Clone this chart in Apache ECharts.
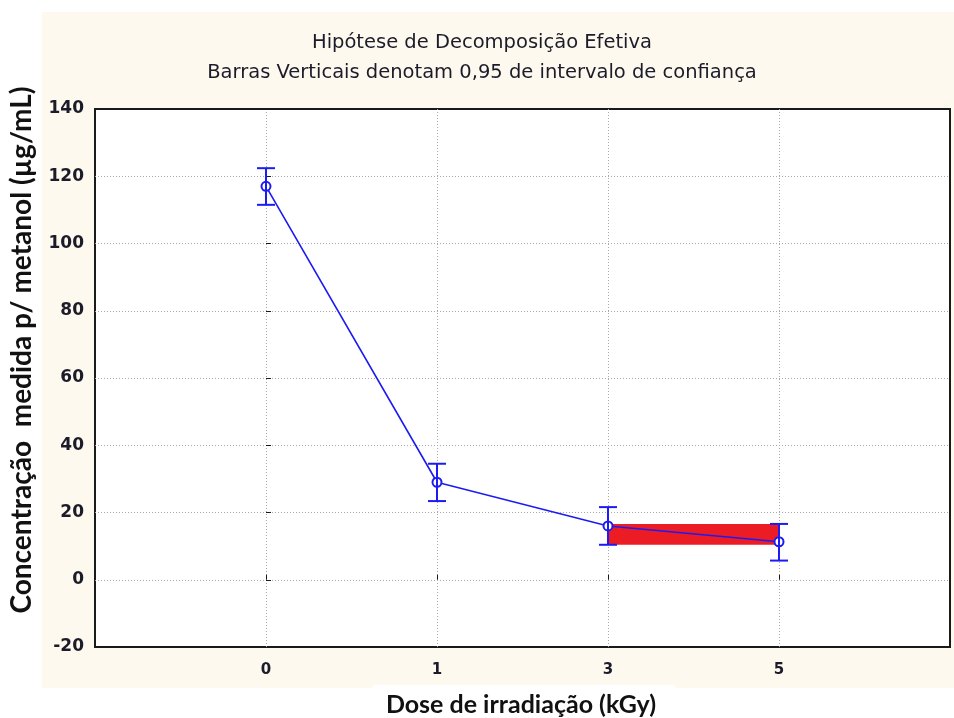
<!DOCTYPE html>
<html>
<head>
<meta charset="utf-8">
<style>
  html, body { margin: 0; padding: 0; background: #ffffff; }
  #chart { width: 954px; height: 718px; }
</style>
<script src="https://cdn.jsdelivr.net/npm/echarts@6/dist/echarts.min.js"></script>
</head>
<body>
<div id="chart"></div>
<script>
// Dose categories (kGy) and measured concentration with 95% confidence limits
const doseLabels = ['0', '1', '3', '5'];
const meanValues = [117.0, 29.0, 16.0, 11.3];
const ciLower = [111.5, 23.4, 10.4, 5.7];
const ciUpper = [122.4, 34.5, 21.6, 16.6];

// Highlighted overlap between the last two doses: from lower limit of dose 3 to upper limit of dose 5
const bandFrom = 2;
const bandTo = 3;

const yTicks = [-20, 0, 20, 40, 60, 80, 100, 120, 140];

const titleLine1 = 'Hipótese de Decomposição Efetiva';
const titleLine2 = 'Barras Verticais denotam 0,95 de intervalo de confiança';
const xTitle = 'Dose de irradiação (kGy)';
const yTitle = 'Concentração  medida p/ metanol (µg/mL)';

const blue = '#1c1cf2';
const cream = '#fef9ee';
const ink = '#1b1b2a';

const chart = echarts.init(document.getElementById('chart'), null, { renderer: 'canvas' });

const lineData = meanValues.map((v, i) => [i, v]);
const errData = meanValues.map((v, i) => [i, ciLower[i], ciUpper[i]]);

const option = {
  backgroundColor: '#ffffff',
  animation: false,
  graphic: [
    { type: 'rect', z: -10, shape: { x: 42, y: 12, width: 912, height: 676 }, style: { fill: cream } },
    { type: 'rect', z: -9, shape: { x: 373, y: 685, width: 302, height: 33 }, style: { fill: '#ffffff' } },
    {
      type: 'text', x: 482, y: 43, z: 5,
      style: { text: titleLine1, font: '19.5px "DejaVu Sans"', fill: ink, align: 'center', verticalAlign: 'middle' }
    },
    {
      type: 'text', x: 482, y: 73, z: 5,
      style: { text: titleLine2, font: '19.5px "DejaVu Sans"', fill: ink, align: 'center', verticalAlign: 'middle' }
    },
    {
      type: 'text', x: 521, y: 705, z: 5,
      style: { text: xTitle, font: 'bold 25px Lato', fill: '#111', align: 'center', verticalAlign: 'middle' }
    },
    {
      type: 'text', x: 22, y: 350, rotation: Math.PI / 2, z: 5,
      style: { text: yTitle, font: 'bold 28px Lato', fill: '#111', align: 'center', verticalAlign: 'middle' }
    }
  ],
  grid: {
    left: 95, top: 109, right: 4, bottom: 71,
    outerBoundsMode: 'none', containLabel: false,
    show: true, backgroundColor: '#ffffff', borderColor: '#1a1a1a', borderWidth: 2
  },
  xAxis: {
    type: 'value', min: -1, max: 4, interval: 1,
    axisLine: { show: false },
    axisTick: { show: true, inside: true, length: 5, lineStyle: { color: '#1a1a1a', width: 1 } },
    axisLabel: {
      margin: 16, color: ink, fontFamily: 'DejaVu Sans', fontWeight: 'bold', fontSize: 15,
      formatter: v => (v >= 0 && v < doseLabels.length) ? doseLabels[v] : ''
    },
    splitLine: { show: true, showMinLine: false, showMaxLine: false, lineStyle: { color: '#a8a8a8', type: [1, 2], width: 1 } }
  },
  yAxis: {
    type: 'value', min: yTicks[0], max: yTicks[yTicks.length - 1], interval: 20,
    axisLine: { show: false },
    axisTick: { show: true, inside: true, length: 5, lineStyle: { color: '#1a1a1a', width: 1 } },
    axisLabel: { margin: 11, color: ink, fontFamily: 'DejaVu Sans', fontWeight: 'bold', fontSize: 17 },
    splitLine: { show: true, showMinLine: false, showMaxLine: false, lineStyle: { color: '#a8a8a8', type: [1, 2], width: 1 } }
  },
  series: [
    {
      type: 'line',
      data: lineData,
      z: 3,
      symbol: 'circle', symbolSize: 9,
      itemStyle: { color: '#ffffff', borderColor: blue, borderWidth: 2 },
      lineStyle: { color: blue, width: 1.6 },
      markArea: {
        silent: true,
        itemStyle: { color: '#ec1c24', opacity: 1 },
        data: [[
          { coord: [bandFrom, ciLower[bandFrom]] },
          { coord: [bandTo, ciUpper[bandTo]] }
        ]]
      }
    },
    {
      type: 'custom',
      z: 4,
      data: errData,
      renderItem: function (params, api) {
        const x = api.value(0);
        const lo = api.coord([x, api.value(1)]);
        const hi = api.coord([x, api.value(2)]);
        const half = 9;
        const style = { stroke: blue, lineWidth: 2 };
        return {
          type: 'group',
          children: [
            { type: 'line', shape: { x1: hi[0], y1: hi[1], x2: lo[0], y2: lo[1] }, style },
            { type: 'line', shape: { x1: hi[0] - half, y1: hi[1], x2: hi[0] + half, y2: hi[1] }, style },
            { type: 'line', shape: { x1: lo[0] - half, y1: lo[1], x2: lo[0] + half, y2: lo[1] }, style }
          ]
        };
      }
    }
  ]
};

chart.setOption(option);
</script>
</body>
</html>
